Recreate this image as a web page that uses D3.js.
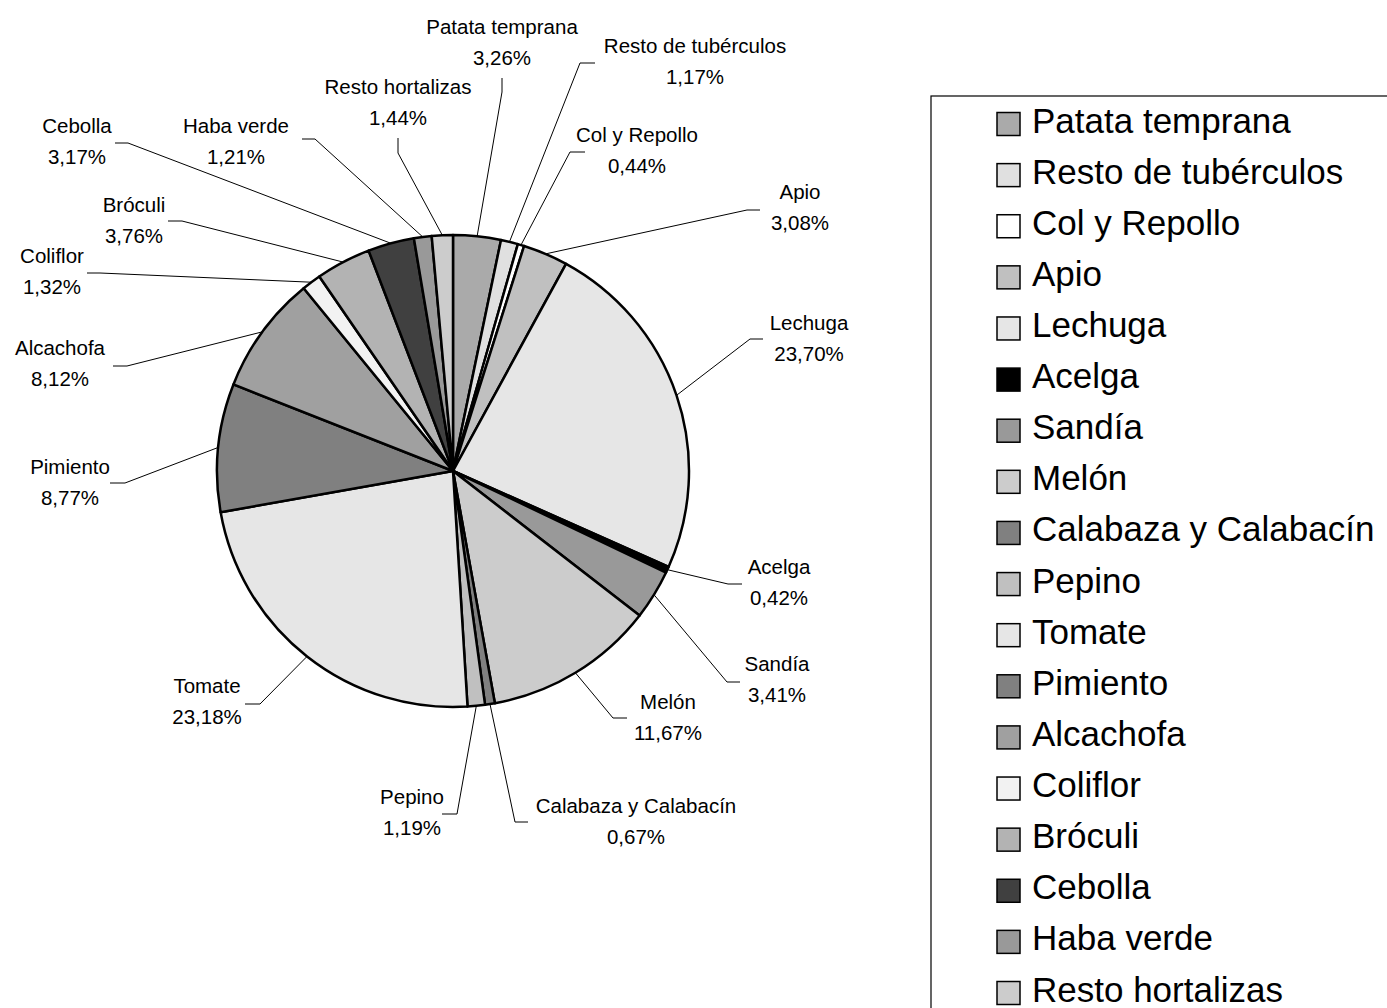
<!DOCTYPE html>
<html>
<head>
<meta charset="utf-8">
<script src="https://cdn.jsdelivr.net/npm/d3@7"></script>
<style>
  body { margin: 0; background: #fff; }
  svg { font-family: "Liberation Sans", Arial, sans-serif; }
</style>
</head>
<body>
<svg id="chart" width="1387" height="1008"></svg>
<script>
const categories = ["Patata temprana", "Resto de tubérculos", "Col y Repollo", "Apio", "Lechuga",
  "Acelga", "Sandía", "Melón", "Calabaza y Calabacín", "Pepino", "Tomate", "Pimiento",
  "Alcachofa", "Coliflor", "Bróculi", "Cebolla", "Haba verde", "Resto hortalizas"];
const values = [3.26, 1.17, 0.44, 3.08, 23.70, 0.42, 3.41, 11.67, 0.67, 1.19, 23.18, 8.77,
  8.12, 1.32, 3.76, 3.17, 1.21, 1.44];
const fills = ["#aaaaaa", "#e0e0e0", "#ffffff", "#c0c0c0", "#e6e6e6", "#000000", "#999999",
  "#cccccc", "#808080", "#c0c0c0", "#e6e6e6", "#808080", "#a0a0a0", "#f2f2f2", "#b3b3b3",
  "#404040", "#999999", "#cccccc"];

// label layout, relative to pie centre: text centre / first baseline, stub end, elbow
const cx = 453, cy = 471, r = 236;
const labelPos = [
  {tx: 49, ty: -437, lx: 49, ly: -393, ex: 49, ey: -379},
  {tx: 242, ty: -418, lx: 142, ly: -408, ex: 127, ey: -408},
  {tx: 184, ty: -329, lx: 132, ly: -319, ex: 117, ey: -319},
  {tx: 347, ty: -272, lx: 307, ly: -261, ex: 294, ey: -261},
  {tx: 356, ty: -141, lx: 310, ly: -132, ex: 297, ey: -132},
  {tx: 326, ty: 103, lx: 289, ly: 113, ex: 275, ey: 113},
  {tx: 324, ty: 200, lx: 287, ly: 211, ex: 274, ey: 211},
  {tx: 215, ty: 238, lx: 174, ly: 247, ex: 160, ey: 247},
  {tx: 183, ty: 342, lx: 75, ly: 351, ex: 62, ey: 351},
  {tx: -41, ty: 333, lx: -11, ly: 343, ex: 4, ey: 343},
  {tx: -246, ty: 222, lx: -208, ly: 233, ex: -193, ey: 233},
  {tx: -383, ty: 3, lx: -343, ly: 12, ex: -328, ey: 12},
  {tx: -393, ty: -116, lx: -340, ly: -105, ex: -326, ey: -105},
  {tx: -401, ty: -208, lx: -366, ly: -198, ex: -353, ey: -198},
  {tx: -319, ty: -259, lx: -285, ly: -250, ex: -271, ey: -250},
  {tx: -376, ty: -338, lx: -338, ly: -328, ex: -325, ey: -328},
  {tx: -217, ty: -338, lx: -151, ly: -332, ex: -138, ey: -332},
  {tx: -55, ty: -377, lx: -55, ly: -333, ex: -55, ey: -318}
];

const fmt = v => d3.format(".2f")(v).replace(".", ",") + "%";

const svg = d3.select("#chart");

const pie = d3.pie().sort(null).value(d => d.v);
const arcs = pie(categories.map((c, i) => ({c: c, v: values[i], f: fills[i], i: i})));
const arc = d3.arc().innerRadius(0).outerRadius(r);
const edge = d3.arc().innerRadius(r).outerRadius(r);

const g = svg.append("g").attr("transform", "translate(" + cx + "," + cy + ")");

g.selectAll("path.slice")
  .data(arcs)
  .enter()
  .append("path")
  .attr("class", "slice")
  .attr("d", arc)
  .style("fill", d => d.data.f)
  .style("stroke", "#000")
  .style("stroke-width", 2.5)
  .style("stroke-linejoin", "round");

// leader lines
g.selectAll("polyline.leader")
  .data(arcs)
  .enter()
  .append("polyline")
  .attr("class", "leader")
  .attr("points", d => {
    const p = edge.centroid(d);
    const L = labelPos[d.data.i];
    return [p, [L.ex, L.ey], [L.lx, L.ly]].map(q => q.join(",")).join(" ");
  })
  .style("fill", "none")
  .style("stroke", "#000")
  .style("stroke-width", 1);

const labels = g.selectAll("text.lbl")
  .data(arcs)
  .enter()
  .append("text")
  .attr("class", "lbl")
  .attr("text-anchor", "middle")
  .style("font-size", "20.5px")
  .attr("x", d => labelPos[d.data.i].tx)
  .attr("y", d => labelPos[d.data.i].ty);
labels.append("tspan")
  .attr("x", d => labelPos[d.data.i].tx)
  .text(d => d.data.c);
labels.append("tspan")
  .attr("x", d => labelPos[d.data.i].tx)
  .attr("dy", 31)
  .text(d => fmt(d.data.v));

// legend
const legend = svg.append("g");
legend.append("rect")
  .attr("x", 931).attr("y", 96)
  .attr("width", 520).attr("height", 1000)
  .style("fill", "#fff")
  .style("stroke", "#000")
  .style("stroke-width", 1.2);

const rowY = d3.scalePoint().domain(categories).range([124, 993]);

const rows = legend.selectAll("g.row")
  .data(categories)
  .enter()
  .append("g")
  .attr("class", "row")
  .attr("transform", d => "translate(0," + rowY(d) + ")");
rows.append("rect")
  .attr("x", 997).attr("y", -11.5)
  .attr("width", 23).attr("height", 23)
  .style("fill", (d, i) => fills[i])
  .style("stroke", "#000")
  .style("stroke-width", 1.5);
rows.append("text")
  .attr("x", 1032)
  .attr("y", 8.5)
  .style("font-size", "35px")
  .text(d => d);
</script>
</body>
</html>
